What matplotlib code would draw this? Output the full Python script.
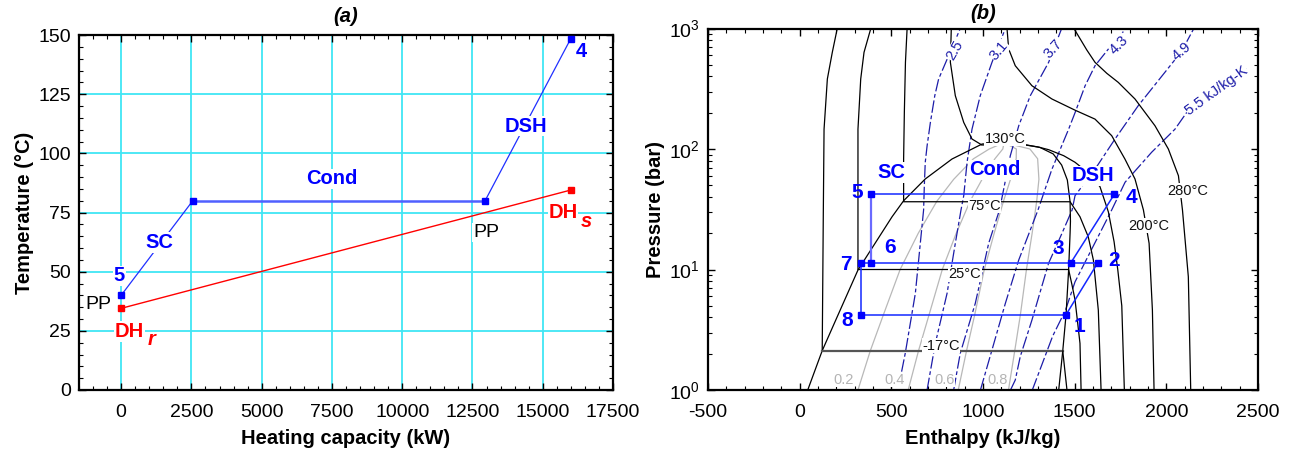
import numpy as np
import matplotlib
matplotlib.use("Agg")
import matplotlib.pyplot as plt
from matplotlib.ticker import MultipleLocator, FixedLocator, NullFormatter, LogLocator

plt.rcParams['font.family'] = ['Liberation Sans', 'DejaVu Sans']
plt.rcParams['mathtext.fontset'] = 'custom'
plt.rcParams['mathtext.rm'] = 'Liberation Sans'
plt.rcParams['mathtext.it'] = 'Liberation Sans:italic'
plt.rcParams['mathtext.bf'] = 'Liberation Sans:bold'
plt.rcParams['axes.unicode_minus'] = False

# ---------------- panel (a) data ----------------
hx_ref = [0, 2550, 12950, 16000]          # heating capacity, refrigerant
ht_ref = [40, 80, 80, 148.5]               # temperature, refrigerant
hx_dh = [0, 16000]                         # district heating water
ht_dh = [34.5, 84.5]
a_xticks = [0, 2500, 5000, 7500, 10000, 12500, 15000, 17500]
a_yticks = [0, 25, 50, 75, 100, 125, 150]

# ---------------- panel (b) data ----------------
# saturation dome (h kJ/kg, P bar)
dome_h = [44, 123, 197, 318, 504, 567, 685, 831, 995, 1115, 1238, 1311, 1383, 1429, 1460, 1475, 1477, 1475, 1467, 1453, 1435, 1413]
dome_P = [1, 2.12, 3.81, 9.9, 27.4, 37.2, 56.4, 82.6, 110, 113, 108, 103, 91, 73.6, 55.3, 36.5, 25, 20, 9.9, 4.22, 2.11, 1]

# isotherms
tm17_h = [205, 178, 151, 133, 129, 123, 1435, 1458]
tm17_P = [1000, 634, 381, 146, 30, 2.11, 2.11, 1]
t25_h = [388, 351, 333, 318, 318, 1467, 1485, 1502, 1529, 1535]
t25_P = [1000, 634, 381, 146, 10.0, 10.0, 7.5, 5.6, 2.44, 1]
t75_h = [586, 577, 571, 567, 567, 1475, 1529, 1574, 1602, 1629, 1644]
t75_P = [1000, 524, 202, 82.6, 36.5, 36.5, 27.4, 18.7, 12, 4.6, 1]
t130_h = [827, 822, 849, 895, 940, 985, 992, 1231, 1300, 1358, 1440, 1502, 1560, 1638, 1684, 1715, 1735, 1757, 1771]
t130_P = [1000, 524, 277, 166, 121, 110, 108, 108, 104, 98.7, 88, 77.6, 66, 48.7, 30, 17, 10, 5, 1]
t200_h = [1131, 1140, 1176, 1267, 1376, 1502, 1611, 1702, 1774, 1829, 1875, 1906, 1924, 1933]
t200_P = [1000, 676, 491, 335, 260, 210, 177, 129, 82.6, 56.4, 31.2, 16.5, 4.61, 1]
t280_h = [1496, 1566, 1611, 1675, 1738, 1829, 1938, 2011, 2066, 2088, 2120, 2133]
t280_P = [1000, 664, 524, 425, 357, 260, 156, 100, 60, 31.2, 8.7, 1]

# vapour quality lines
q_P = [1, 2.11, 4.22, 10, 20, 37, 56, 83, 100, 113]
q02_h = [318, 385, 457, 548, 647, 749, 840, 948, 1034, 1115]
q04_h = [592, 648, 706, 778, 854, 930, 995, 1065, 1108, 1115]
q06_h = [865, 910, 955, 1007, 1061, 1112, 1150, 1181, 1182, 1115]
q08_h = [1139, 1173, 1204, 1237, 1268, 1293, 1305, 1298, 1256, 1115]

# isentropes (kJ/kg-K)
s25_h = [556, 576, 631, 676, 680, 685, 695, 713, 737, 758, 876]
s25_P = [1.42, 2.02, 6.34, 31.2, 49.7, 77.5, 106, 166, 277, 381, 1000]
s31_h = [695, 740, 804, 849, 880, 895, 913, 940, 985, 1049, 1122]
s31_P = [1, 2.44, 6.34, 16.5, 31.2, 41, 77.5, 146, 277, 524, 1000]
s37_h = [840, 876, 958, 1031, 1090, 1113, 1149, 1195, 1258, 1358, 1429]
s37_P = [1, 2.02, 5.24, 16.5, 31.2, 46.6, 88, 156, 277, 524, 1000]
s43_h = [986, 1049, 1122, 1195, 1300, 1376, 1467, 1502, 1557, 1611, 1684, 1780]
s43_P = [1, 2.15, 5.24, 12, 31.2, 68, 146, 200, 335, 491, 676, 1000]
s49_h = [1150, 1176, 1203, 1267, 1358, 1431, 1486, 1502, 1611, 1720, 1847, 2082, 2150]
s49_P = [1, 1.21, 1.89, 3.81, 11.3, 20, 31.2, 41, 68, 121, 229, 642, 1000]
s55_h = [1269, 1380, 1450, 1502, 1702, 1775, 1920, 2047, 2111, 2275, 2438]
s55_P = [1, 2.8, 4.6, 7.9, 31.2, 53, 94, 146, 201, 305, 461]

# cycle state points 1..8
cyc_h = [1453, 1625, 1478, 1716, 391, 391, 336, 336]
cyc_P = [4.22, 11.3, 11.3, 42, 42, 11.3, 11.3, 4.22]
cyc_names = ['1', '2', '3', '4', '5', '6', '7', '8']
b_xticks = [-500, 0, 500, 1000, 1500, 2000, 2500]

# ---------------- figure ----------------
fig = plt.figure(figsize=(12.95, 4.53), dpi=100)
W, H = 1295, 453
ax1 = fig.add_axes([79 / W, 1 - 390 / H, (613 - 79) / W, (390 - 35) / H])
ax2 = fig.add_axes([708 / W, 1 - 390 / H, (1258 - 708) / W, (390 - 28.5) / H])

BLUE = '#0000ff'
WBOX = dict(facecolor='white', edgecolor='none', pad=0.6)
TICKFS = 14
LABFS = 14.5

# ---- panel (a)
ax1.set_xlim(-1500, 17500)
ax1.set_ylim(0, 150)
for xv in a_xticks[:-1]:
    ax1.axvline(xv, color='#40e6f4', lw=1.3, zorder=0)
for yv in a_yticks[1:-1]:
    ax1.axhline(yv, color='#40e6f4', lw=1.3, zorder=0)

ax1.plot(hx_ref[:2], ht_ref[:2], color='#2030ff', lw=0.9, zorder=3)
ax1.plot(hx_ref[1:3], ht_ref[1:3], color='#5060ff', lw=1.8, zorder=3)
ax1.plot(hx_ref[2:], ht_ref[2:], color='#2030ff', lw=0.9, zorder=3)
ax1.plot(hx_ref, ht_ref, ls='none', marker='s', ms=4.5, color=BLUE, zorder=4)
ax1.plot(hx_dh, ht_dh, color='#ff0000', lw=1.0, marker='s', ms=4.5, zorder=4)

ax1.text(-74, 48.2, '5', color=BLUE, fontsize=14.5, fontweight='bold', ha='center', va='center', bbox=WBOX, zorder=5)
ax1.text(1366, 62.2, 'SC', color=BLUE, fontsize=14.5, fontweight='bold', ha='center', va='center', bbox=WBOX, zorder=5)
ax1.text(7494, 89.2, 'Cond', color=BLUE, fontsize=14.5, fontweight='bold', ha='center', va='center', bbox=WBOX, zorder=5)
ax1.text(14401, 111.5, 'DSH', color=BLUE, fontsize=14.5, fontweight='bold', ha='center', va='center', bbox=WBOX, zorder=5)
ax1.text(16386, 143.2, '4', color=BLUE, fontsize=14.5, fontweight='bold', ha='center', va='center', zorder=5)
ax1.text(-820, 36.2, 'PP', color='black', fontsize=14, ha='center', va='center', zorder=5)
ax1.text(12980, 66.6, 'PP', color='black', fontsize=14, ha='center', va='center', bbox=WBOX, zorder=5)
ax1.text(15721, 75.0, 'DH', color='#ff0000', fontsize=14.5, fontweight='bold', ha='center', va='center', bbox=WBOX, zorder=5)
ax1.text(16560, 71.0, 's', color='#ff0000', fontsize=14.5, fontweight='bold', style='italic', ha='center', va='center', zorder=5)
ax1.text(295, 24.7, 'DH', color='#ff0000', fontsize=14.5, fontweight='bold', ha='center', va='center', bbox=WBOX, zorder=5)
ax1.text(1100, 21.3, 'r', color='#ff0000', fontsize=14.5, fontweight='bold', style='italic', ha='center', va='center', zorder=5)

ax1.set_xticks(a_xticks)
ax1.set_yticks(a_yticks)
ax1.xaxis.set_minor_locator(MultipleLocator(500))
ax1.yaxis.set_minor_locator(MultipleLocator(5))
ax1.set_xlabel('Heating capacity (kW)', fontsize=LABFS, fontweight='bold', labelpad=6)
ax1.set_ylabel('Temperature (°C)', fontsize=LABFS, fontweight='bold', labelpad=3)
ax1.set_title('(a)', fontsize=14.5, fontweight='bold', style='italic', pad=9)

# ---- panel (b)
ax2.set_yscale('log')
ax2.set_xlim(-500, 2500)
ax2.set_ylim(1, 1000)

for qh in (q02_h, q04_h, q06_h, q08_h):
    ax2.plot(qh, q_P, color='#b8b8b8', lw=0.9, zorder=1)

ISC = '#1c1ca8'
for sh, sp in ((s25_h, s25_P), (s31_h, s31_P), (s37_h, s37_P), (s43_h, s43_P), (s49_h, s49_P), (s55_h, s55_P)):
    ax2.plot(sh, sp, color=ISC, lw=0.9, dashes=(10, 2.2, 3, 2.2), zorder=2)

ax2.plot(dome_h, dome_P, color='black', lw=0.9, zorder=3)
ax2.plot(tm17_h[:6], tm17_P[:6], color='black', lw=0.9, zorder=3)
ax2.plot(tm17_h[5:7], tm17_P[5:7], color='#555555', lw=1.6, zorder=3)
ax2.plot(tm17_h[6:], tm17_P[6:], color='black', lw=0.9, zorder=3)
for th, tp in ((t25_h, t25_P), (t75_h, t75_P), (t130_h, t130_P), (t200_h, t200_P), (t280_h, t280_P)):
    ax2.plot(th, tp, color='black', lw=0.9, zorder=3)

i1, i2, i3, i4, i5, i6, i7, i8 = range(8)
CB = '#1428ff'
ax2.plot([cyc_h[i5], cyc_h[i4]], [cyc_P[i5], cyc_P[i4]], color=CB, lw=1.1, zorder=4)
ax2.plot([cyc_h[i5], cyc_h[i6]], [cyc_P[i5], cyc_P[i6]], color='#6a6aff', lw=1.6, zorder=4)
ax2.plot([cyc_h[i7], cyc_h[i2]], [cyc_P[i7], cyc_P[i2]], color='#3848ff', lw=1.3, zorder=4)
ax2.plot([cyc_h[i7], cyc_h[i8]], [cyc_P[i7], cyc_P[i8]], color=CB, lw=1.1, zorder=4)
ax2.plot([cyc_h[i8], cyc_h[i1]], [cyc_P[i8], cyc_P[i1]], color=CB, lw=1.1, zorder=4)
ax2.plot([cyc_h[i1], cyc_h[i2]], [cyc_P[i1], cyc_P[i2]], color=CB, lw=1.1, zorder=4)
ax2.plot([cyc_h[i3], cyc_h[i4]], [cyc_P[i3], cyc_P[i4]], color=CB, lw=1.1, zorder=4)
ax2.plot(cyc_h, cyc_P, ls='none', marker='s', ms=4.5, color=BLUE, zorder=5)

lab_pos = {'1': (1526, 3.34), '2': (1713, 11.9), '3': (1411, 15.0), '4': (1809, 39.6),
           '5': (312, 43.5), '6': (494, 15.3), '7': (250, 11.1), '8': (257, 3.79)}
for n in cyc_names:
    x, y = lab_pos[n]
    ax2.text(x, y, n, color=BLUE, fontsize=15, fontweight='bold', ha='center', va='center', zorder=6)
ax2.text(501, 63.7, 'SC', color=BLUE, fontsize=14.5, fontweight='bold', ha='center', va='center', bbox=WBOX, zorder=6)
ax2.text(1062, 67, 'Cond', color=BLUE, fontsize=14.5, fontweight='bold', ha='center', va='center', bbox=WBOX, zorder=6)
ax2.text(1599, 59.8, 'DSH', color=BLUE, fontsize=14.5, fontweight='bold', ha='center', va='center', bbox=WBOX, zorder=6)

TB = dict(facecolor='white', edgecolor='none', pad=0.3)
for txt, x, y in (('130°C', 1119, 121.7), ('75°C', 1009, 33.8), ('25°C', 902, 9.1),
                  ('-17°C', 771, 2.33), ('200°C', 1903, 23.1), ('280°C', 2118, 45)):
    ax2.text(x, y, txt, color='#111111', fontsize=10.5, ha='center', va='center', bbox=TB, zorder=5)
for txt, x in (('0.2', 239), ('0.4', 517), ('0.6', 792), ('0.8', 1080)):
    ax2.text(x, 1.22, txt, color='#b4b4b4', fontsize=10.5, ha='center', va='center', bbox=TB, zorder=5)
for txt, x, y, r in (('2.5', 849, 654, 60), ('3.1', 1089, 654, 50), ('3.7', 1386, 676, 48),
                     ('4.3', 1744, 734, 45), ('4.9', 2082, 642, 41), ('5.5 kJ/kg-K', 2275, 305, 36)):
    ax2.text(x, y, txt, color=ISC, fontsize=10.5, ha='center', va='center', rotation=r,
             rotation_mode='anchor', bbox=TB, zorder=5)

ax2.set_xticks(b_xticks)
ax2.xaxis.set_minor_locator(MultipleLocator(100))
ax2.yaxis.set_major_locator(FixedLocator([1, 10, 100, 1000]))
ax2.set_yticklabels([r'$10^{0}$', r'$10^{1}$', r'$10^{2}$', r'$10^{3}$'])
ax2.yaxis.set_minor_locator(LogLocator(base=10, subs=np.arange(2, 10)))
ax2.yaxis.set_minor_formatter(NullFormatter())
ax2.set_xlabel('Enthalpy (kJ/kg)', fontsize=LABFS, fontweight='bold', labelpad=6)
ax2.set_ylabel('Pressure (bar)', fontsize=LABFS, fontweight='bold', labelpad=3)
ax2.set_title('(b)', fontsize=14.5, fontweight='bold', style='italic', pad=7)

for ax in (ax1, ax2):
    ax.tick_params(which='both', direction='in', top=True, right=True, labelsize=TICKFS)
    ax.tick_params(axis='x', which='both', pad=10)
    ax.tick_params(axis='y', which='both', pad=6)
    ax.tick_params(which='major', length=5, width=1)
    ax.tick_params(which='minor', length=3, width=0.8)
    for sp in ax.spines.values():
        sp.set_linewidth(1.6)

fig.savefig('out.png', dpi=100)
